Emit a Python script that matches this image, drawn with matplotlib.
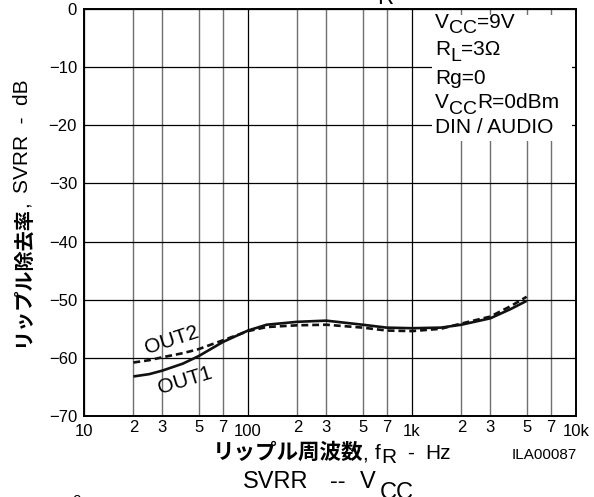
import matplotlib

matplotlib.use("Agg")
import matplotlib.pyplot as plt  # noqa: E402
from matplotlib.patches import Rectangle  # noqa: E402

plt.rcParams["font.family"] = ["Liberation Sans", "Noto Sans CJK JP"]

# ripple frequency (Hz) and SVRR (dB)
freq = [20, 25, 30, 40, 50, 70, 100, 130, 200, 300, 500, 700, 1000, 1500, 2000, 3000, 4000, 5000]
out1 = [-63.2, -62.8, -62.2, -61.0, -59.7, -57.3, -55.3, -54.3, -53.8, -53.6, -54.3, -54.8,
        -54.9, -54.8, -54.3, -53.2, -51.6, -50.2]
out2 = [-60.8, -60.4, -59.9, -59.2, -58.5, -57.0, -55.4, -54.7, -54.4, -54.3, -54.8, -55.3,
        -55.4, -55.0, -54.1, -52.9, -51.1, -49.5]

y_ticks = [0, -10, -20, -30, -40, -50, -60, -70]
y_labels = ["0", "\u221210", "\u221220", "\u221230", "\u221240", "\u221250", "\u221260", "\u221270"]
x_major = [10, 100, 1000, 10000]
x_major_labels = ["10", "100", "1k", "10k"]
x_minor = [20, 30, 50, 70, 200, 300, 500, 700, 2000, 3000, 5000, 7000]
x_minor_labels = ["2", "3", "5", "7"] * 3

W, H = 594, 497


def put(px, py, s, size, weight="normal", rot=0, ha="left", va="baseline", **kw):
    return fig.text(px / W, 1 - py / H, s, fontsize=size, fontweight=weight,
                    rotation=rot, rotation_mode="anchor", ha=ha, va=va, **kw)


def flow(px, py, parts):
    # lay text pieces side by side; each piece is (text, drop in px, size)
    r = fig.canvas.get_renderer()
    x = px
    for s, dy, sz in parts:
        t = put(x, py + dy, s, sz, zorder=3)
        x += t.get_window_extent(r).width


fig = plt.figure(figsize=(W / 100, H / 100), dpi=100)
ax = fig.add_axes([84 / W, (H - 416) / H, 492 / W, 407 / H])
ax.set_xscale("log")

ax.plot(freq, out1, color="#111111", lw=1.9, solid_capstyle="butt")
ax.plot(freq, out2, color="#111111", lw=1.9, dashes=(2.6, 1.5))

ax.set_xticks(x_major, x_major_labels)
ax.set_xticks(x_minor, x_minor_labels, minor=True)
ax.set_yticks(y_ticks, y_labels)
ax.tick_params(which="both", length=0, labelsize=12)
ax.tick_params(axis="x", which="major", pad=6)
ax.tick_params(axis="x", which="minor", pad=3)
ax.tick_params(axis="y", pad=5)
ax.grid(which="major", color="black", lw=0.9)
ax.grid(which="minor", axis="x", color="#707070", lw=1.0)
for sp in ax.spines.values():
    sp.set_linewidth(1.4)

# white panel behind the conditions text
ax.add_patch(Rectangle((432 / W, 1 - 141 / H), 140 / W, 126 / H, transform=fig.transFigure,
                       facecolor="white", edgecolor="none", zorder=2.2))
ax.set_xlim(10, 10000)
ax.set_ylim(-70, 0)

# conditions
fs, fsub = 15, 14
flow(435, 28, [("V", 0, fs), ("CC", 5, fsub), ("=9V", 0, fs)])
flow(435, 55, [("R", 0, fs), ("L", 6, fsub), ("=3\u03a9", 0, fs)])
flow(435, 84, [("Rg=0", 0, fs)])
flow(435, 108, [("V", 0, fs), ("CC", 6, fsub), ("R=0dBm", 0, fs)])
flow(435, 133, [("DIN / AUDIO", 0, fs)])

# curve labels
put(172, 340, "OUT2", 15, rot=18, ha="center", va="center")
put(185, 381, "OUT1", 15, rot=17, ha="center", va="center")

# axis labels
put(213, 459, "リップル周波数", 15.5, weight="bold")
put(362, 459, ",", 15)
put(375, 459, "f", 15)
put(381, 463, "R", 15)
put(407, 459, "-", 15)
put(425, 459, "Hz", 15)
put(28, 347, "リップル除去率", 14.5, weight="bold", rot=90)
put(28, 207, ",", 15, rot=90)
put(28, 193, "SVRR  -  dB", 15, rot=90)

put(577, 459, "ILA00087", 11, ha="right")

# remains of the neighbouring charts on the datasheet page
put(243, 488, "SVRR", 17)
put(330, 488, "--", 17)
put(360, 488, "V", 17)
put(380, 499, "CC", 17)
put(377, 4, "R", 16)
put(72, 505, "0", 11)

fig.savefig("out.png", dpi=100)
